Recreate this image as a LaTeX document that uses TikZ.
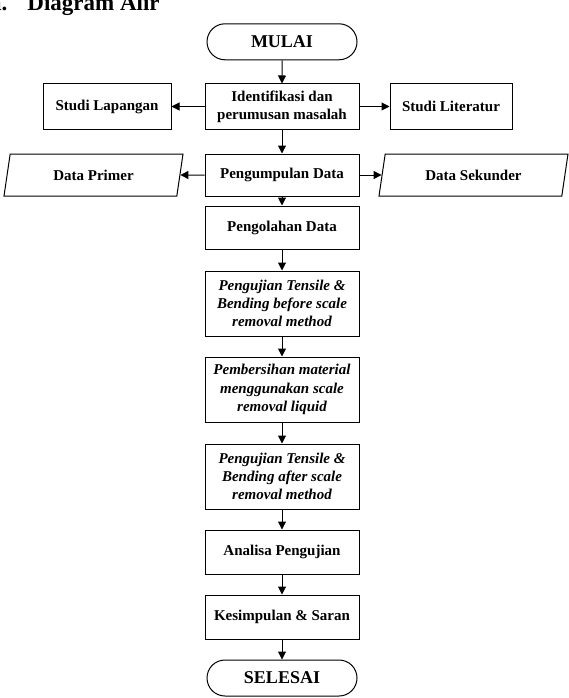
\documentclass[tikz,border=0pt]{standalone}
\usepackage{fontspec}
\setmainfont{Liberation Serif}
\usetikzlibrary{arrows.meta,shapes.misc,shapes.geometric}

\begin{document}
\begin{tikzpicture}[x=1pt,y=-1pt]
\tikzset{kotak/.style={draw,line width=1pt,minimum width=154pt,minimum height=43pt,align=center,inner sep=2pt,font=\fontsize{15}{18.3}\selectfont\bfseries},
terminal/.style={kotak,rounded rectangle,minimum height=36pt,font=\fontsize{18}{21}\selectfont\bfseries},
data/.style={kotak,trapezium,trapezium left angle=67,trapezium right angle=113,trapezium stretches body,minimum height=42pt},
miring/.style={font=\fontsize{15}{18.3}\selectfont\bfseries\itshape},
panah/.style={line width=1pt,-{Triangle[length=8pt,width=8pt]}}}
\useasboundingbox (0,0) rectangle (569,698);
\clip (0,0) rectangle (569,698);
\node at (-10,10.5) [anchor=base west][inner sep=0pt][font=\fontsize{23}{23}\selectfont\bfseries] (judul) {a.\hspace{20pt}Diagram Alir};
\node at (282,41.8) [terminal] (mulai) {MULAI};
\node at (282,106.5) [kotak][minimum height=45pt] (ident) {Identifikasi dan\\perumusan masalah};
\node at (107,106.5) [kotak][minimum width=128pt][minimum height=45pt] (lapangan) {Studi Lapangan};
\node at (451,106.5) [kotak][minimum width=122pt][minimum height=45pt] (literatur) {Studi Literatur};
\node at (282,175) [kotak][minimum height=42pt] (kumpul) {Pengumpulan Data};
\node at (93.5,175) [data][minimum width=179pt] (primer) {Data Primer};
\node at (473.5,175) [data][minimum width=189pt] (sekunder) {Data Sekunder};
\node at (282,227.5) [kotak] (olah) {Pengolahan Data};
\node at (282,303.5) [kotak][minimum height=65pt][miring] (before) {Pengujian Tensile \&\\Bending before scale\\removal method};
\node at (282,389.5) [kotak][minimum height=65pt][miring] (bersih) {Pembersihan material\\menggunakan scale\\removal liquid};
\node at (282,476.5) [kotak][minimum height=65pt][miring] (after) {Pengujian Tensile \&\\Bending after scale\\removal method};
\node at (282,552) [kotak][minimum height=44pt] (analisa) {Analisa Pengujian};
\node at (282,617) [kotak][minimum height=44pt] (simpul) {Kesimpulan \& Saran};
\node at (282,678) [terminal] (selesai) {SELESAI};
\draw [panah](mulai)--(ident);
\draw [panah](ident.west)--(lapangan.east);
\draw [panah](ident.east)--(literatur.west);
\draw [panah](ident)--(kumpul);
\draw [panah](kumpul.west)--(primer.east);
\draw [panah](kumpul.east)--(sekunder.west);
\draw [panah](kumpul)--(olah);
\draw [panah](olah)--(before);
\draw [panah](before)--(bersih);
\draw [panah](bersih)--(after);
\draw [panah](after)--(analisa);
\draw [panah](analisa)--(simpul);
\draw [panah](simpul)--(selesai);
\end{tikzpicture}
\end{document}
